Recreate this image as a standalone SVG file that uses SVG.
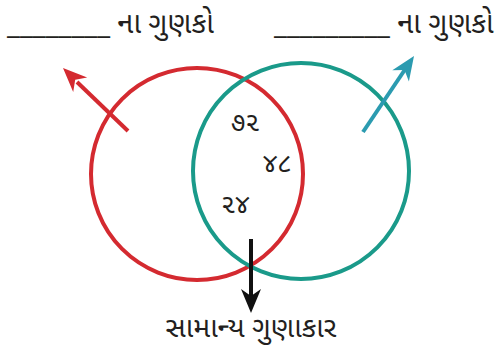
<svg xmlns="http://www.w3.org/2000/svg" width="502" height="349" viewBox="0 0 502 349">
<style>
text{font-family:"Noto Sans Gujarati","Noto Sans","DejaVu Sans",sans-serif;fill:#231f20}
.lbl{font-size:29px}
.btm{font-size:28.5px}
.num{font-size:26px}
.sh{fill:none;stroke-width:4}
</style>
<g id="circleA"><circle class="sh" cx="197" cy="174" r="106" stroke="#d42a30"/></g>
<g id="circleB"><circle class="sh" cx="301" cy="171" r="108" stroke="#1a9a8a"/></g>
<g id="connectors">
<line x1="128" y1="131" x2="77" y2="82" stroke="#d42a30" stroke-width="4"/>
<polygon points="63,68 87.2,77.5 75.2,79.8 73.2,91.9" fill="#d42a30"/>
<line x1="363" y1="132" x2="406" y2="68" stroke="#2b9bb0" stroke-width="4"/>
<polygon points="414,56 408.9,81.5 404.5,70.1 392.3,70.3" fill="#2b9bb0"/>
<line x1="251" y1="239" x2="251" y2="298" stroke="#111" stroke-width="4"/>
<polygon points="251,313 241,289 251,296 261,289" fill="#111"/>
</g>
<g id="labelA"><text class="lbl" x="7" y="33">________ ના ગુણકો</text></g>
<g id="labelB"><text class="lbl" x="274" y="33">_________ ના ગુણકો</text></g>
<g id="n72"><text class="num" x="231" y="131">૭૨</text></g>
<g id="n48"><text class="num" x="263" y="172">૪૮</text></g>
<g id="n24"><text class="num" x="221" y="213">૨૪</text></g>
<g id="common"><text class="btm" x="251" y="337" text-anchor="middle">સામાન્ય ગુણાકાર</text></g>
</svg>
